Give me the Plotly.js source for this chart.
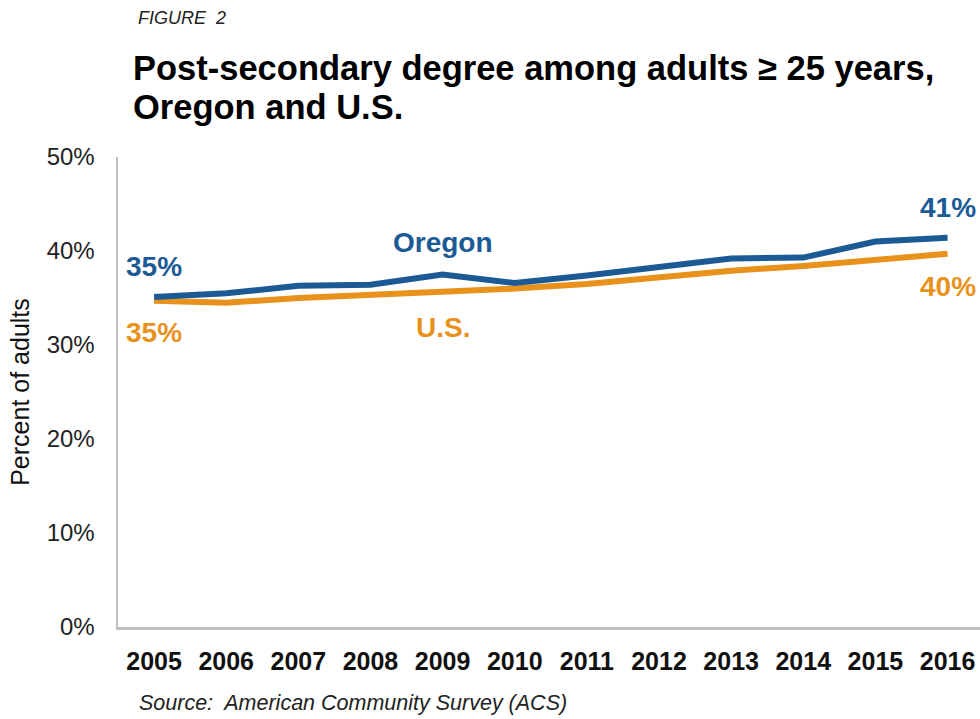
<!DOCTYPE html>
<html>
<head>
<meta charset="utf-8">
<script src="https://cdn.plot.ly/plotly-3.0.1.min.js"></script>
<style>
html,body{margin:0;padding:0;background:#fff;}
#chart{width:980px;height:719px;}
</style>
</head>
<body>
<div id="chart"></div>
<script>
const years = [2005, 2006, 2007, 2008, 2009, 2010, 2011, 2012, 2013, 2014, 2015, 2016];
const oregon = [35.1, 35.5, 36.3, 36.4, 37.5, 36.6, 37.4, 38.3, 39.2, 39.3, 41.0, 41.4];
const us = [34.7, 34.5, 35.0, 35.3, 35.6, 36.0, 36.5, 37.2, 37.9, 38.4, 39.0, 39.7];
const yTicks = [0, 10, 20, 30, 40, 50];
const yTickLabels = ["0%", "10%", "20%", "30%", "40%", "50%"];

const blue = "#1b5a94";
const orange = "#e8921c";
const font = "Liberation Sans, Arial, sans-serif";

const traces = [
  {x: years, y: us, type: "scatter", mode: "lines", line: {color: orange, width: 6}, hoverinfo: "skip"},
  {x: years, y: oregon, type: "scatter", mode: "lines", line: {color: blue, width: 6}, hoverinfo: "skip"}
];

const n = years.length - 1;
const pct = v => Math.round(v) + "%";
const lbl = (x, y, text, color, size) => ({
  x: x, y: y, xref: "x", yref: "y", text: text, showarrow: false,
  font: {family: font, size: size, color: color}, xanchor: "center", yanchor: "middle"
});
const PW = 862, PH = 470, ML = 118, MT = 157;
const px = v => (v - ML) / PW;
const py = v => 1 - (v - MT) / PH;

const layout = {
  width: 980, height: 719,
  margin: {l: ML, r: 0, t: MT, b: 92},
  paper_bgcolor: "#fff", plot_bgcolor: "#fff",
  showlegend: false,
  xaxis: {
    range: [2004.5, 2016.45], tickvals: years, ticktext: years.map(String),
    showgrid: false, zeroline: false, showline: true, linecolor: "#c0c0c0", linewidth: 2.5,
    ticks: "", ticklabelstandoff: 10,
    tickfont: {family: font, size: 25, color: "#111", weight: "bold"}
  },
  yaxis: {
    range: [0, 50], tickvals: yTicks, ticktext: yTickLabels,
    showgrid: false, zeroline: false, showline: true, linecolor: "#c0c0c0", linewidth: 2.5,
    ticks: "", ticklabelstandoff: 16,
    tickfont: {family: font, size: 24, color: "#222"},
    title: {text: "Percent of adults", font: {family: font, size: 25, color: "#111"}, standoff: 10}
  },
  annotations: [
    lbl(years[0], 38.3, "<b>" + pct(oregon[0]) + "</b>", blue, 28),
    lbl(years[0], 31.3, "<b>" + pct(us[0]) + "</b>", orange, 28),
    lbl(years[n], 44.6, "<b>" + pct(oregon[n]) + "</b>", blue, 28),
    lbl(years[n], 36.2, "<b>" + pct(us[n]) + "</b>", orange, 28),
    lbl(2009.0, 40.9, "<b>Oregon</b>", blue, 28),
    lbl(2009.0, 31.9, "<b>U.S.</b>", orange, 28),
    {xref: "paper", yref: "paper", x: px(136), y: py(18),
     text: "<i>FIGURE  2</i>", showarrow: false, xanchor: "left", yanchor: "middle",
     font: {family: font, size: 18, color: "#222"}},
    {xref: "paper", yref: "paper", x: px(131), y: py(68),
     text: "<b>Post-secondary degree among adults ≥ 25 years,</b>", showarrow: false, xanchor: "left", yanchor: "middle",
     font: {family: font, size: 34.5, color: "#000"}},
    {xref: "paper", yref: "paper", x: px(131), y: py(107),
     text: "<b>Oregon and U.S.</b>", showarrow: false, xanchor: "left", yanchor: "middle",
     font: {family: font, size: 34.5, color: "#000"}},
    {xref: "paper", yref: "paper", x: px(137), y: py(703),
     text: "<i>Source:  American Community Survey (ACS)</i>", showarrow: false, xanchor: "left", yanchor: "middle",
     font: {family: font, size: 21.5, color: "#222"}}
  ]
};

Plotly.newPlot("chart", traces, layout, {displayModeBar: false, staticPlot: true});
</script>
</body>
</html>
